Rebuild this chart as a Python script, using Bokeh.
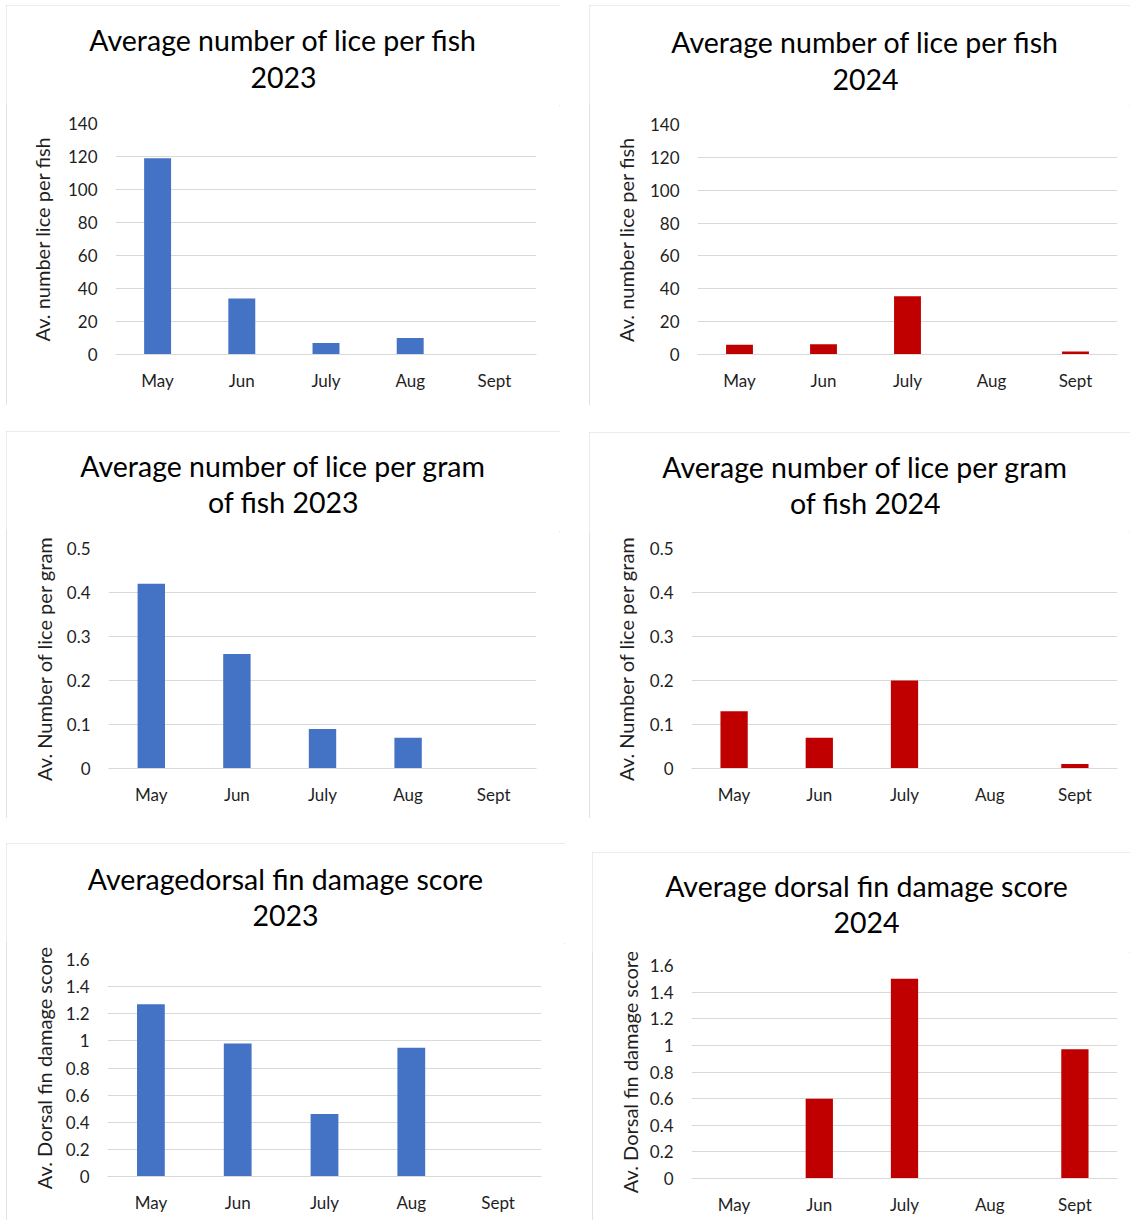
from bokeh.plotting import figure
from bokeh.layouts import column, row
from bokeh.models import Spacer, FactorRange, FixedTicker, NumeralTickFormatter, Range1d
from bokeh.core.properties import value
from bokeh.embed import file_html
from bokeh.resources import INLINE

months = ["May", "Jun", "July", "Aug", "Sept"]

lice_fish_2023 = [119, 34, 7, 10, 0]
lice_fish_2024 = [6, 6.3, 35.5, 0, 1.8]
lice_gram_2023 = [0.42, 0.26, 0.09, 0.07, 0]
lice_gram_2024 = [0.13, 0.07, 0.20, 0, 0.01]
fin_2023 = [1.27, 0.98, 0.46, 0.95, 0]
fin_2024 = [0, 0.60, 1.50, 0, 0.97]

ticks_fish = [0, 20, 40, 60, 80, 100, 120, 140]
ticks_gram = [0, 0.1, 0.2, 0.3, 0.4, 0.5]
ticks_fin = [0, 0.2, 0.4, 0.6, 0.8, 1.0, 1.2, 1.4, 1.6]

BLUE = "#4472C4"
RED = "#C00000"
GRID = "#D9D9D9"
FONT = "Lato"
TH = 100  # height of the title strip


def panel(title, vals, ticks, ylabel, color, px, py, pw, ph, fl, fr, ft, fb, tcx, tcy, lab_standoff):
    # px, py: panel origin; fl, fr, ft, fb: plot-area edges; tcx, tcy: title centre
    t = figure(width=pw, height=TH, output_backend="svg", toolbar_location=None,
               x_range=Range1d(0, pw), y_range=Range1d(0, TH), min_border=0)
    t.frame_align = False
    t.axis.visible = False
    t.grid.visible = False
    t.outline_line_color = None
    t.text(x=[tcx - px], y=[TH - (tcy - py)], text=[title], text_align="center",
           text_baseline="middle", text_font=value(FONT), text_font_size="28.5px",
           text_line_height=1.07, text_color="#000000")

    c = figure(width=pw, height=ph - TH, output_backend="svg", toolbar_location=None,
               x_range=FactorRange(*months), y_range=Range1d(0, ticks[-1]),
               min_border_left=fl - px, min_border_right=px + pw - fr,
               min_border_top=ft - (py + TH), min_border_bottom=py + ph - fb)
    c.frame_align = False
    c.vbar(x=months, top=vals, width=0.32, color=color, line_color=None)
    c.outline_line_color = None
    c.xgrid.grid_line_color = None
    c.ygrid.grid_line_color = GRID
    c.ygrid.grid_line_width = 1
    c.yaxis.ticker = FixedTicker(ticks=ticks)
    c.yaxis.formatter = NumeralTickFormatter(format="0.[0]")
    c.yaxis.axis_line_color = None
    c.yaxis.major_tick_line_color = None
    c.yaxis.minor_tick_line_color = None
    c.yaxis.major_label_standoff = 18
    c.yaxis.axis_label = ylabel
    c.yaxis.axis_label_standoff = lab_standoff
    c.xaxis.axis_line_color = GRID
    c.xaxis.major_tick_line_color = None
    c.xaxis.major_label_standoff = 15
    for ax in (c.xaxis, c.yaxis):
        ax.major_tick_out = 0
        ax.major_tick_in = 0
        ax.major_label_text_font = FONT
        ax.major_label_text_font_size = "17px"
        ax.major_label_text_color = "#1f1f1f"
        ax.axis_label_text_font = FONT
        ax.axis_label_text_font_size = "20px"
        ax.axis_label_text_font_style = "normal"
        ax.axis_label_text_color = "#1f1f1f"

    return column(t, c, styles={"outline": "1px solid #D9D9D9", "outline-offset": "-1px"})


p1 = panel("Average number of lice per fish\n2023", lice_fish_2023, ticks_fish,
           "Av. number lice per fish", BLUE, 6, 5, 554, 400, 115, 536, 123, 354, 283, 58, 11)
p2 = panel("Average number of lice per fish\n2024", lice_fish_2024, ticks_fish,
           "Av. number lice per fish", RED, 589, 5, 541, 400, 697, 1117, 124, 354, 865, 60, 9)
p3 = panel("Average number of lice per gram\nof fish 2023", lice_gram_2023, ticks_gram,
           "Av. Number of lice per gram", BLUE, 6, 431, 554, 387, 108, 536, 548, 768, 283, 483.5, 8)
p4 = panel("Average number of lice per gram\nof fish 2024", lice_gram_2024, ticks_gram,
           "Av. Number of lice per gram", RED, 589, 432, 541, 386, 691, 1117, 548, 768, 865, 484.5, 9)
p5 = panel("Averagedorsal fin damage score\n2023", fin_2023, ticks_fin,
           "Av. Dorsal fin damage score", BLUE, 6, 843, 559, 377, 107, 541, 959, 1176, 285, 896.5, 7)
p6 = panel("Average dorsal fin damage score\n2024", fin_2024, ticks_fin,
           "Av. Dorsal fin damage score", RED, 592, 852, 538, 368, 691, 1117, 965, 1178, 866, 903.5, 5)

layout = column(
    Spacer(height=5),
    row(Spacer(width=6), p1, Spacer(width=29), p2),
    Spacer(height=26),
    row(Spacer(width=6), p3, Spacer(width=29), column(Spacer(height=1), p4)),
    Spacer(height=25),
    row(Spacer(width=6), p5, Spacer(width=27), column(Spacer(height=9), p6)),
)

open("out.html", "w").write(file_html(layout, INLINE))
